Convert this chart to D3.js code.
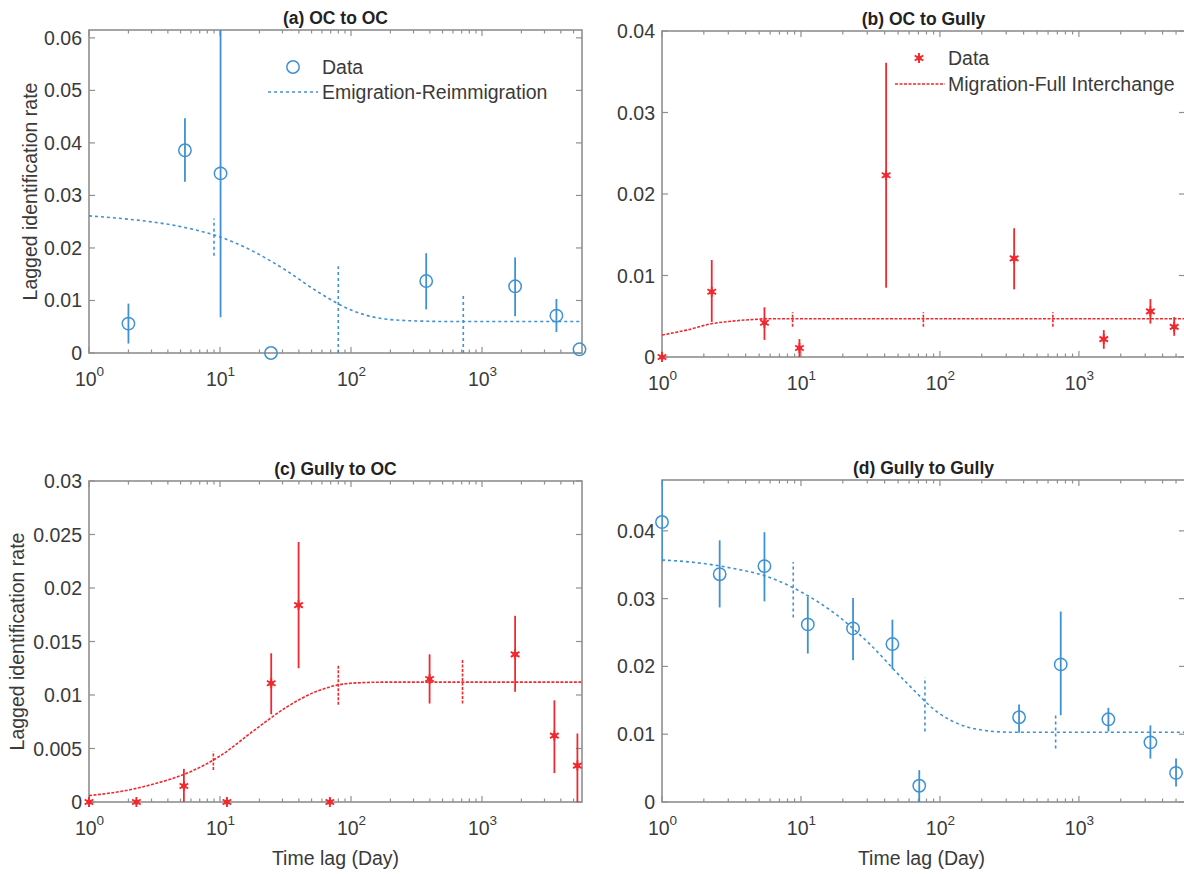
<!DOCTYPE html>
<html>
<head>
<meta charset="utf-8">
<script src="https://cdn.jsdelivr.net/npm/d3@7"></script>
<style>
  html, body { margin: 0; padding: 0; background: #fff; }
  svg { display: block; font-family: "Liberation Sans", Arial, Helvetica, sans-serif; }
</style>
</head>
<body>
<svg id="fig" width="1184" height="874"></svg>
<script>
// ---------- shared axis values ----------
const lagMax = 5800;                      // upper end of the time-lag axis (days)
const xTickExponents = [0, 1, 2, 3];      // labelled decades 10^0 .. 10^3
const yTicksA = [0, 0.01, 0.02, 0.03, 0.04, 0.05, 0.06];
const yTicksB = [0, 0.01, 0.02, 0.03, 0.04];
const yTicksC = [0, 0.005, 0.01, 0.015, 0.02, 0.025, 0.03];
const yTicksD = [0, 0.01, 0.02, 0.03, 0.04];
const yMaxA = 0.0615, yMaxB = 0.04, yMaxC = 0.03, yMaxD = 0.0475;

// ---------- (a) OC to OC ----------
const lagA  = [2.0, 5.4, 10.1, 24.5, 375, 1790, 3700, 5550];
const rateA = [0.0056, 0.0386, 0.0342, 0, 0.0137, 0.0127, 0.0071, 0.0007];
const lowA  = [0.0018, 0.0326, 0.0068, 0, 0.0083, 0.0070, 0.0040, 0.0007];
const highA = [0.0094, 0.0447, 0.0615, 0, 0.0190, 0.0182, 0.0103, 0.0007];
const fitLagA  = [1, 1.78, 3.16, 5.62, 10, 17.8, 31.6, 56.2, 100, 178, 316, 562, 1000, 5800];
const fitRateA = [0.0261, 0.0256, 0.0249, 0.0238, 0.0221, 0.0194, 0.0158, 0.0116, 0.0082, 0.0065, 0.0061, 0.0060, 0.0060, 0.0060];
const modelLagA  = [9, 80, 720];
const modelLowA  = [0.0185, 0, 0];
const modelHighA = [0.0256, 0.0165, 0.0110];

// ---------- (b) OC to Gully ----------
const lagB  = [1, 2.28, 5.46, 9.75, 41, 342, 1510, 3270, 4850];
const rateB = [0, 0.0080, 0.0042, 0.0011, 0.0223, 0.0121, 0.0022, 0.0056, 0.0037];
const lowB  = [0, 0.0043, 0.0021, 0, 0.0085, 0.0083, 0.0010, 0.0041, 0.0026];
const highB = [0, 0.0119, 0.0061, 0.0022, 0.0361, 0.0158, 0.0033, 0.0071, 0.0049];
const fitLagB  = [1, 1.5, 2.3, 3.2, 4.5, 6, 10, 5800];
const fitRateB = [0.0027, 0.0033, 0.0041, 0.0044, 0.0046, 0.0047, 0.0047, 0.0047];
const modelLagB  = [8.7, 76, 650];
const modelLowB  = [0.0037, 0.0037, 0.0037];
const modelHighB = [0.0055, 0.0055, 0.0055];

// ---------- (c) Gully to OC ----------
const lagC  = [1, 2.3, 5.3, 11.3, 24.6, 39.8, 69, 398, 1790, 3570, 5350];
const rateC = [0, 0, 0.0015, 0, 0.0111, 0.0184, 0, 0.0115, 0.0138, 0.0062, 0.0034];
const lowC  = [0, 0, 0, 0, 0.0082, 0.0125, 0, 0.0092, 0.0103, 0.0027, 0];
const highC = [0, 0, 0.0031, 0, 0.0139, 0.0243, 0, 0.0138, 0.0174, 0.0095, 0.0064];
const fitLagC  = [1, 1.78, 3.16, 5.62, 10, 17.8, 31.6, 56.2, 100, 178, 5800];
const fitRateC = [0.0006, 0.0010, 0.0017, 0.0027, 0.0043, 0.0066, 0.0088, 0.0104, 0.0111, 0.0112, 0.0112];
const modelLagC  = [8.9, 80, 710];
const modelLowC  = [0.0030, 0.0091, 0.0092];
const modelHighC = [0.0047, 0.0128, 0.0133];

// ---------- (d) Gully to Gully ----------
const lagD  = [1, 2.6, 5.46, 11.2, 23.7, 45.5, 71, 371, 740, 1630, 3270, 5000];
const rateD = [0.0413, 0.0336, 0.0348, 0.0262, 0.0256, 0.0233, 0.0024, 0.0125, 0.0203, 0.0122, 0.0088, 0.0043];
const lowD  = [0.0354, 0.0287, 0.0296, 0.0219, 0.0209, 0.0196, 0, 0.0102, 0.0128, 0.0104, 0.0064, 0.0023];
const highD = [0.0475, 0.0386, 0.0398, 0.0303, 0.0301, 0.0269, 0.0047, 0.0144, 0.0281, 0.0139, 0.0113, 0.0064];
const fitLagD  = [1, 1.78, 3.16, 5.62, 10, 17.8, 31.6, 56.2, 100, 178, 316, 5800];
const fitRateD = [0.0357, 0.0353, 0.0345, 0.0333, 0.0310, 0.0277, 0.0232, 0.0178, 0.0130, 0.0108, 0.0103, 0.0103];
const modelLagD  = [8.8, 78, 680];
const modelLowD  = [0.0272, 0.0104, 0.0079];
const modelHighD = [0.0354, 0.0184, 0.0128];

// ---------- styling ----------
const BLUE = "#3f92d2";
const RED = "#f2282e";
const AXIS = "#8f8f8f";
const TEXT = "#3a3a3a";
const FONT = 19.5;

const svg = d3.select("#fig");
const defs = svg.append("defs");

const panels = [
  { key: "a", title: "(a) OC to OC", box: { left: 89, right: 582, top: 30, bottom: 353 },
    yMax: yMaxA, yTicks: yTicksA, yLabelX: 37, xLabel: false, color: BLUE, marker: "circle",
    lag: lagA, rate: rateA, low: lowA, high: highA,
    fitLag: fitLagA, fitRate: fitRateA, fitDash: "3,3",
    mLag: modelLagA, mLow: modelLowA, mHigh: modelHighA,
    legend: { fitName: "Emigration-Reimmigration", mx: 293, my: 67, lx0: 268, lx1: 318, ly: 92, tx: 322 } },
  { key: "b", title: "(b) OC to Gully", box: { left: 662, right: 1185, top: 31, bottom: 357 },
    yMax: yMaxB, yTicks: yTicksB, yLabelX: null, xLabel: false, color: RED, marker: "star",
    lag: lagB, rate: rateB, low: lowB, high: highB,
    fitLag: fitLagB, fitRate: fitRateB, fitDash: "3,1.5",
    mLag: modelLagB, mLow: modelLowB, mHigh: modelHighB,
    legend: { fitName: "Migration-Full Interchange", mx: 919, my: 58, lx0: 895, lx1: 945, ly: 84, tx: 948 } },
  { key: "c", title: "(c) Gully to OC", box: { left: 89, right: 582, top: 481, bottom: 802 },
    yMax: yMaxC, yTicks: yTicksC, yLabelX: 24, xLabel: true, color: RED, marker: "star",
    lag: lagC, rate: rateC, low: lowC, high: highC,
    fitLag: fitLagC, fitRate: fitRateC, fitDash: "3,1.5",
    mLag: modelLagC, mLow: modelLowC, mHigh: modelHighC, legend: null },
  { key: "d", title: "(d) Gully to Gully", box: { left: 662, right: 1185, top: 480, bottom: 802 },
    yMax: yMaxD, yTicks: yTicksD, yLabelX: null, xLabel: true, color: BLUE, marker: "circle",
    lag: lagD, rate: rateD, low: lowD, high: highD,
    fitLag: fitLagD, fitRate: fitRateD, fitDash: "3,3",
    mLag: modelLagD, mLow: modelLowD, mHigh: modelHighD, legend: null }
];

const fmtY = v => String(+v.toFixed(4));
const starPath = d3.symbol().type(d3.symbolAsterisk).size(70)();

function drawMarker(sel, kind, color) {
  if (kind === "circle") {
    sel.append("circle").attr("r", 6.2)
      .attr("fill", "none").attr("stroke", color).attr("stroke-width", 1.5);
  } else {
    sel.append("path").attr("d", starPath)
      .attr("fill", "none").attr("stroke", color).attr("stroke-width", 1.9);
    sel.append("circle").attr("r", 2.6).attr("fill", color);
  }
}

panels.forEach(p => {
  const b = p.box;
  const g = svg.append("g").attr("class", "panel-" + p.key);
  const x = d3.scaleLog().domain([1, lagMax]).range([b.left, b.right]);
  const y = d3.scaleLinear().domain([0, p.yMax]).range([b.bottom, b.top]);

  defs.append("clipPath").attr("id", "clip-" + p.key)
    .append("rect").attr("x", b.left).attr("y", b.top)
    .attr("width", b.right - b.left).attr("height", b.bottom - b.top);

  // ----- ticks (inside, all four sides) -----
  const tg = g.append("g").attr("stroke", AXIS).attr("stroke-width", 1.2);
  const majors = xTickExponents.map(e => Math.pow(10, e));
  const minors = [];
  xTickExponents.forEach(e => {
    for (let m = 2; m <= 9; m++) {
      const v = m * Math.pow(10, e);
      if (v <= lagMax) minors.push(v);
    }
  });
  majors.forEach(v => {
    tg.append("line").attr("x1", x(v)).attr("x2", x(v)).attr("y1", b.bottom).attr("y2", b.bottom - 6);
    tg.append("line").attr("x1", x(v)).attr("x2", x(v)).attr("y1", b.top).attr("y2", b.top + 6);
  });
  minors.forEach(v => {
    tg.append("line").attr("x1", x(v)).attr("x2", x(v)).attr("y1", b.bottom).attr("y2", b.bottom - 3.5);
    tg.append("line").attr("x1", x(v)).attr("x2", x(v)).attr("y1", b.top).attr("y2", b.top + 3.5);
  });
  p.yTicks.forEach(v => {
    tg.append("line").attr("x1", b.left).attr("x2", b.left + 6).attr("y1", y(v)).attr("y2", y(v));
    tg.append("line").attr("x1", b.right).attr("x2", b.right - 6).attr("y1", y(v)).attr("y2", y(v));
  });

  // ----- box -----
  g.append("rect").attr("x", b.left).attr("y", b.top)
    .attr("width", b.right - b.left).attr("height", b.bottom - b.top)
    .attr("fill", "none").attr("stroke", AXIS).attr("stroke-width", 1.6);

  // ----- tick labels -----
  p.yTicks.forEach(v => {
    g.append("text").attr("x", b.left - 7).attr("y", y(v)).attr("dy", "0.36em")
      .attr("text-anchor", "end").attr("font-size", FONT).attr("fill", TEXT)
      .text(fmtY(v));
  });
  xTickExponents.forEach(e => {
    const t = g.append("text").attr("x", x(Math.pow(10, e)) + 0.5).attr("y", b.bottom + 33)
      .attr("text-anchor", "middle").attr("font-size", FONT).attr("fill", TEXT);
    t.append("tspan").text("10");
    t.append("tspan").attr("dy", -10).attr("font-size", 13.5).text(e);
  });

  // ----- title and axis labels -----
  g.append("text").attr("x", (b.left + Math.min(b.right, 1187)) / 2).attr("y", b.top - 6)
    .attr("text-anchor", "middle").attr("font-size", 17.5).attr("font-weight", "bold")
    .attr("fill", "#222").text(p.title);
  if (p.yLabelX !== null) {
    const cy = (b.top + b.bottom) / 2;
    g.append("text").attr("transform", `translate(${p.yLabelX},${cy}) rotate(-90)`)
      .attr("text-anchor", "middle").attr("font-size", FONT).attr("fill", TEXT)
      .text("Lagged identification rate");
  }
  if (p.xLabel) {
    g.append("text").attr("x", (b.left + b.right) / 2 - (p.key === "d" ? 2 : 0)).attr("y", b.bottom + 63)
      .attr("text-anchor", "middle").attr("font-size", FONT).attr("fill", TEXT)
      .text("Time lag (Day)");
  }

  // ----- fitted model curve -----
  const clipped = g.append("g").attr("clip-path", `url(#clip-${p.key})`);
  const fitPts = p.fitLag.map((t, i) => [t, p.fitRate[i]]);
  const line = d3.line().x(d => x(d[0])).y(d => y(d[1])).curve(d3.curveMonotoneX);
  clipped.append("path").datum(fitPts).attr("d", line)
    .attr("fill", "none").attr("stroke", p.color).attr("stroke-width", 1.6)
    .attr("stroke-dasharray", p.fitDash);

  // model uncertainty bars
  p.mLag.forEach((t, i) => {
    clipped.append("line").attr("x1", x(t)).attr("x2", x(t))
      .attr("y1", y(p.mLow[i])).attr("y2", y(p.mHigh[i]))
      .attr("stroke", p.color).attr("stroke-width", 1.6).attr("stroke-dasharray", p.fitDash);
  });

  // ----- data error bars -----
  p.lag.forEach((t, i) => {
    if (p.high[i] > p.low[i]) {
      clipped.append("line").attr("x1", x(t)).attr("x2", x(t))
        .attr("y1", y(p.low[i])).attr("y2", y(p.high[i]))
        .attr("stroke", p.color).attr("stroke-width", 1.8);
    }
  });

  // ----- markers -----
  p.lag.forEach((t, i) => {
    const m = g.append("g").attr("transform", `translate(${x(t)},${y(p.rate[i])})`);
    drawMarker(m, p.marker, p.color);
  });

  // ----- legend -----
  if (p.legend) {
    const L = p.legend;
    const lg = g.append("g");
    drawMarker(lg.append("g").attr("transform", `translate(${L.mx},${L.my})`), p.marker, p.color);
    lg.append("line").attr("x1", L.lx0).attr("x2", L.lx1).attr("y1", L.ly).attr("y2", L.ly)
      .attr("stroke", p.color).attr("stroke-width", 1.6).attr("stroke-dasharray", p.fitDash);
    lg.append("text").attr("x", L.tx).attr("y", L.my).attr("dy", "0.36em")
      .attr("font-size", FONT).attr("fill", TEXT).text("Data");
    lg.append("text").attr("x", L.tx).attr("y", L.ly).attr("dy", "0.36em")
      .attr("font-size", FONT).attr("fill", TEXT).text(L.fitName);
  }
});
</script>
</body>
</html>
